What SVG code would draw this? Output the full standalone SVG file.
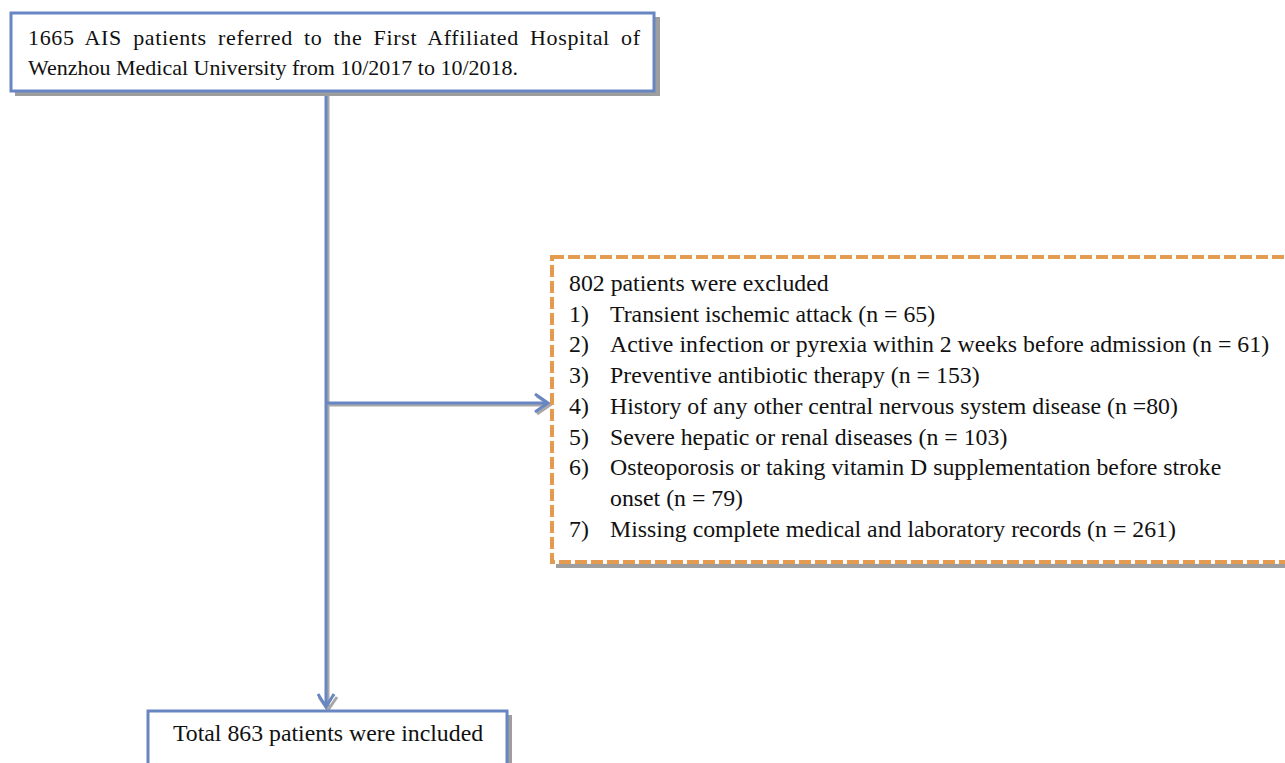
<svg xmlns="http://www.w3.org/2000/svg" width="1285" height="763" viewBox="0 0 1285 763">
<style>
text{font-family:"Liberation Serif","Times New Roman",serif;font-size:23.8px;fill:#111}
.top{font-size:22px}
.box{fill:#fff;stroke:#6786c2;stroke-width:3}
.shadow{fill:#9e9e9e}
.dash{fill:#fff;stroke:#e59b4f;stroke-width:4;stroke-dasharray:12 4}
.con{fill:none;stroke:#6786c2;stroke-width:3}
.conS{fill:none;stroke:#a8a8a8;stroke-width:3}
</style>
<rect width="1285" height="763" fill="#fff"/>
<g id="connectors">
<path class="conS" d="M328 93V707M328 405H548M319 697L328 710L337 697M537 396L550 405L537 414"/>
<path class="con" d="M326 91V707M326 403H548M318 694L326 707L334 694M535 394L548 403L535 412"/>
</g>
<g id="node-start">
<rect class="shadow" x="15" y="17" width="645" height="79"/>
<rect class="box" x="11" y="13" width="643" height="78"/>
<text class="top" x="28" y="45" textLength="612" lengthAdjust="spacing" style="word-spacing:5px">1665 AIS patients referred to the First Affiliated Hospital of</text>
<text class="top" x="28" y="75">Wenzhou Medical University from 10/2017 to 10/2018.</text>
</g>
<g id="node-excluded">
<rect class="shadow" x="556" y="564" width="740" height="4"/>
<rect class="dash" x="552" y="257" width="745" height="305"/>
<text x="569" y="291">802 patients were excluded</text>
<text x="569" y="321.7">1)</text><text x="610" y="321.7">Transient ischemic attack (n = 65)</text>
<text x="569" y="352.4">2)</text><text x="610" y="352.4">Active infection or pyrexia within 2 weeks before admission (n = 61)</text>
<text x="569" y="383.1">3)</text><text x="610" y="383.1">Preventive antibiotic therapy (n = 153)</text>
<text x="569" y="413.8">4)</text><text x="610" y="413.8">History of any other central nervous system disease (n =80)</text>
<text x="569" y="444.5">5)</text><text x="610" y="444.5">Severe hepatic or renal diseases (n = 103)</text>
<text x="569" y="475.2">6)</text><text x="610" y="475.2">Osteoporosis or taking vitamin D supplementation before stroke</text>
<text x="610" y="505.9">onset (n = 79)</text>
<text x="569" y="536.6">7)</text><text x="610" y="536.6">Missing complete medical and laboratory records (n = 261)</text>
</g>
<g id="node-included">
<rect class="shadow" x="152" y="715" width="360" height="60"/>
<rect class="box" x="148" y="711" width="359" height="60"/>
<text x="328" y="741" text-anchor="middle">Total 863 patients were included</text>
</g>
</svg>
